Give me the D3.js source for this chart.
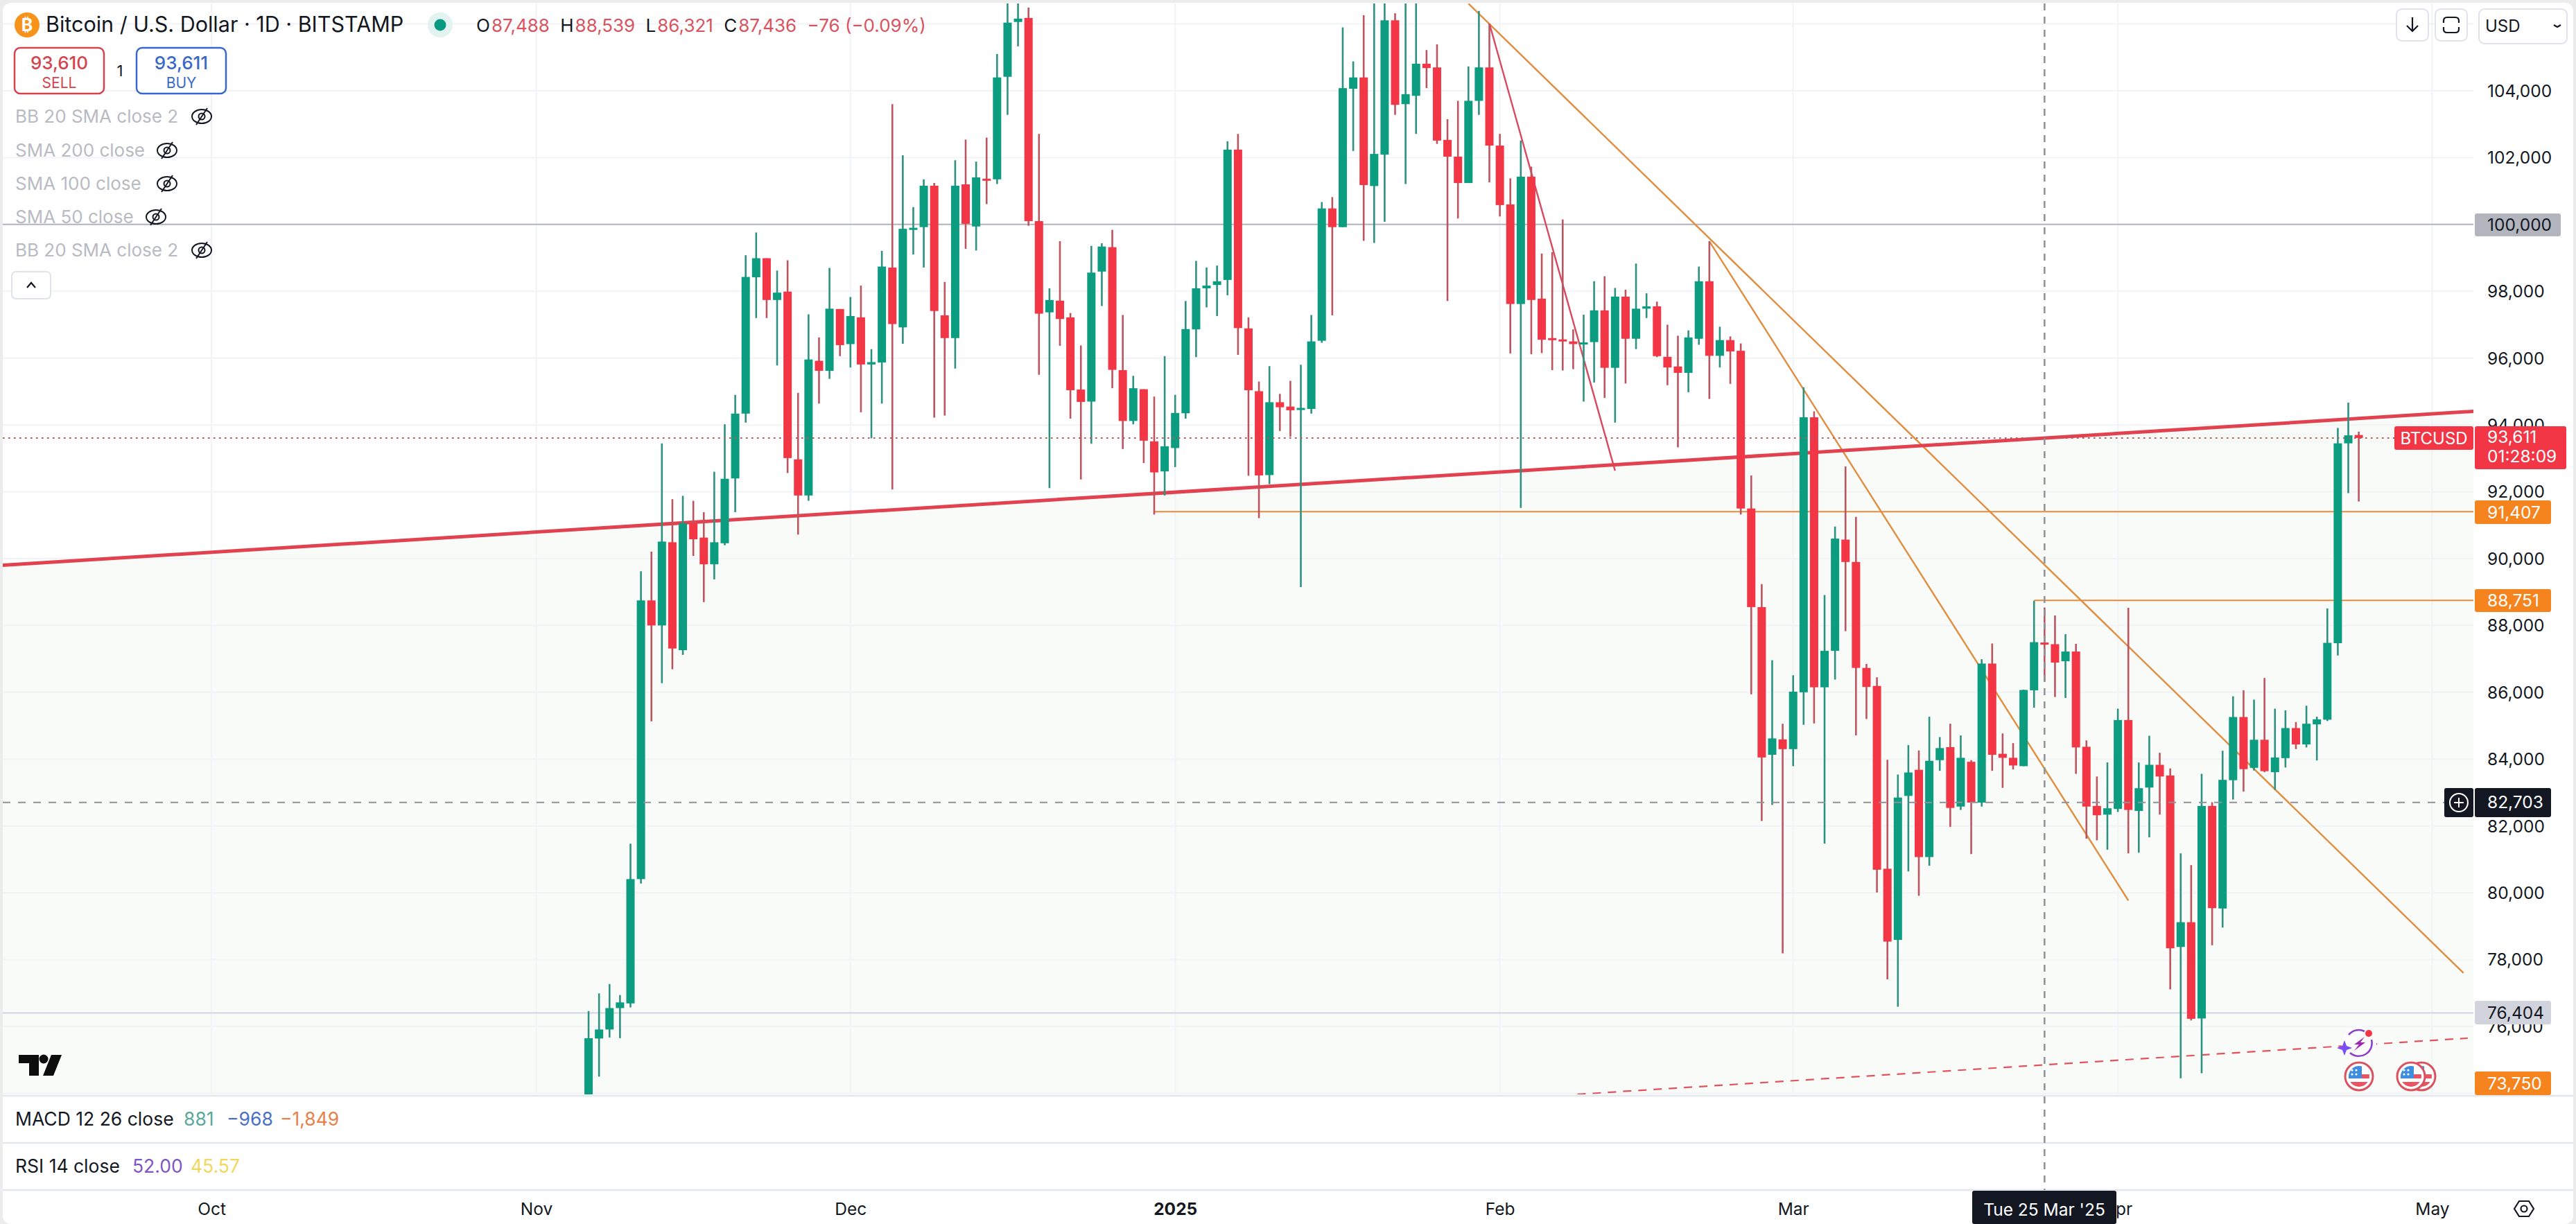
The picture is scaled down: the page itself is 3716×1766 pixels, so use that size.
<!DOCTYPE html>
<html>
<head>
<meta charset="utf-8">
<script src="https://cdn.jsdelivr.net/npm/d3@7"></script>
<style>
html,body{margin:0;padding:0;background:#ececec;overflow:hidden}
svg{display:block}
text{font-family:Inter,"Noto Sans",sans-serif}
</style>
</head>
<body>
<svg id="chart" width="3716" height="1766"></svg>
<script>
// candles, one per day from 6 Nov 2024
const firstDay = new Date(Date.UTC(2024, 10, 6));
const opens = [69400,75640,75910,76550,76690,80410,88750,88000,90490,87260,91060,90630,89830,90460,92400,94340,98420,98990,97740,97990,
92970,91890,95920,95620,97470,96420,97220,95810,95870,98710,96920,99870,99920,101160,97280,96600,101200,99940,101370,101350,
104420,106060,106180,100100,97370,97720,97220,95060,94700,98590,99320,95640,94120,95070,93510,92610,93310,94350,96860,98090,
98190,98340,102240,96890,95010,92500,94680,94550,94470,94480,96520,100480,99920,104060,104400,101150,102090,106110,103600,103850,
104810,104700,102530,102030,101240,103700,104700,102360,100600,97620,101430,97780,96600,96560,96500,96430,96480,97430,95710,97840,
96580,97480,97550,96040,95750,95560,96580,98300,96070,96540,96220,91500,88550,84130,84590,84300,86000,94230,86150,87240,
90570,89900,86730,86190,80720,78590,82900,83680,81070,83970,84360,82580,83920,82700,86860,84160,84040,83790,86060,87488,
87440,86930,87220,84370,82600,82340,82510,85170,82450,83150,83830,83510,78380,79120,76240,82600,79530,83370,85260,83740,
84580,83610,84030,84930,84440,85040,85180,87470,93450,93700];
const highs = [76460,76990,77270,76940,81470,89620,90210,93450,91780,91880,91730,91390,92600,94020,94900,99080,99760,98990,98620,98930,
94960,97310,96620,98700,97470,97830,98170,96270,99210,103600,102070,100520,101350,101240,98280,101920,102540,101880,102600,105100,
107000,107200,106490,102710,98090,99500,97350,96380,99360,99440,99840,97290,95470,95070,94850,96060,94900,97710,98910,98710,
98770,102490,102710,97220,95300,95760,94930,95320,95800,97290,100670,100820,105900,104880,106260,107500,107700,106320,107000,107000,
105220,105390,103150,103700,104730,106390,106010,102710,101380,102510,101730,99130,99170,100150,96860,97300,98300,98450,98100,98050,
98830,97940,97690,97000,96670,96830,98740,99500,96940,96650,96440,92490,89240,86960,85060,86510,95130,94410,88910,90960,
92760,91250,86850,86450,83980,83540,84420,84260,85270,84660,85060,84710,83970,86990,87460,84770,84480,86080,88740,88539,
88300,87740,87450,84560,83480,83900,85510,88530,83900,84700,84190,83720,81180,80830,83560,82710,84250,85880,86060,85780,
86430,85510,85460,85110,85600,85270,88510,93910,94670,93800];
const lows = [68800,74500,75670,75650,76570,80280,85130,86270,86690,87120,90080,88700,89380,90400,91390,94070,97200,97200,95780,92560,
90720,91730,94640,95380,96060,95720,94380,93600,94640,92070,96430,99100,98710,94220,94280,95690,99270,99220,100610,101210,
103280,105330,99960,95500,92110,96370,94190,92370,93440,97560,95100,93280,94020,92860,91320,91890,92740,94190,96030,97520,
97260,97880,96100,92480,91210,92230,93820,93650,89150,94340,96460,97280,99920,102200,99510,99450,100080,103280,101210,102710,
104080,102410,97710,100180,101240,103280,101260,100240,96140,91520,96120,96150,95640,95630,95670,94700,95270,94810,94070,95240,
96270,97200,96030,95190,93330,94980,96400,94780,95720,95230,91320,85940,82150,82630,78190,83790,85030,85070,81470,86380,
87830,84710,85200,80010,77410,76590,80640,79910,80810,83650,81970,82480,81160,82580,83650,83140,83690,83790,85540,86321,
85860,85830,83560,81620,81570,81290,82420,81180,81200,81660,82340,77110,74450,76180,74600,78430,78960,82790,83030,83660,
83610,83080,83750,84300,84350,83960,85140,87100,91960,91710];
const closes = [75650,75910,76550,76720,80410,88750,88000,90510,87310,91060,90580,89830,90490,92390,94340,98430,98990,97740,97960,93010,
91890,95960,95620,97480,96390,97260,95810,95880,98740,97020,99870,99900,101160,97410,96600,101160,100020,101410,101330,104400,
106040,106160,100100,97330,97740,97170,95040,94690,98560,99340,95650,94120,95100,93530,92580,93360,94360,96870,98090,98170,
98300,102240,96900,95040,92490,94680,94530,94440,94510,96500,100480,99920,104080,104400,101180,102110,106110,103580,103900,104810,
104680,102510,102030,101240,103700,104700,102360,100580,97620,101430,97740,96550,96550,96530,96420,96470,97430,95710,97840,96580,
97480,97550,96060,95720,95560,96620,98300,96070,96540,96200,91500,88550,84050,84620,84300,86020,94230,86150,87240,90600,
89900,86730,86160,80690,78540,82850,83600,81070,83950,84330,82540,84040,82700,86860,84130,84040,83810,86070,87500,87436,
86890,87220,84350,82580,82320,82530,85170,82480,83130,83830,83480,78340,79120,76230,82600,79540,83380,85260,83700,84580,
83640,84050,84930,84440,85060,85190,87480,93450,93690,93611];

// price axis
const priceTicks = [104000,102000,100000,98000,96000,94000,92000,90000,88000,86000,84000,82000,80000,78000,76000];
const gridPrices = [106000].concat(priceTicks, [74000]);
// time axis
const monthLabels = ["Oct","Nov","Dec","2025","Feb","Mar","Apr","May"];
const monthDates = [[2024,9],[2024,10],[2024,11],[2025,0],[2025,1],[2025,2],[2025,3],[2025,4]].map(d => new Date(Date.UTC(d[0],d[1],1)));

// drawings: candle index and price of the ends
const orangeLines = [[84,106610,179,77600],[107,99497,147,79770]];
const thinRedLine = [86,106012,98,92630];
const channelTop = [-56,89800,180,94410];
const channelBottom = [94.4,73970,179.4,75650];
// horizontal levels
const hLevel1 = 91407, hLevel1From = 54;
const hLevel2 = 88751, hLevel2From = 138;
const lastPrice = 93611, bidPrice = 93610;
const roundLevel = 100000, lowLevel = 76404, cursorPrice = 82703, labelLow = 73750;
const crosshairIndex = 139;

const W = 3716, H = 1766;
const paneL = 4, paneT = 5, paneR = 3568, paneB = 1579;
const green = "#0c9c7f", red = "#f23645", greenWick = "#2f917f", redWick = "#bd5560";
const orange = "#e08d3f", gridCol = "#f1f3f6";

let x = d3.scaleUtc().domain([new Date(Date.UTC(2024,10,1)), new Date(Date.UTC(2025,4,1))]).range([773.5, 3508.4]);
let y = d3.scaleLinear().domain([104000, 76000]).range([131, 1481]);
let xi = i => x(d3.utcDay.offset(firstDay, Math.floor(i))) + (i - Math.floor(i)) * 15.11;

const candles = opens.map((o,i) => ({i:i, o:o, h:highs[i], l:lows[i], c:closes[i]}));

let svg = d3.select("#chart");
let defs = svg.append("defs");
defs.append("clipPath").attr("id","pane")
	.append("rect").attr("x",paneL).attr("y",paneT).attr("width",paneR-paneL).attr("height",paneB-paneT);
defs.append("clipPath").attr("id","flag").append("circle").attr("r",15);

// panel
svg.append("rect").attr("x",4).attr("y",4).attr("width",W-8).attr("height",H-4).attr("rx",12).attr("fill","#fff");

let pane = svg.append("g").attr("clip-path","url(#pane)");

// channel fill under the red line
let tSlope = (channelTop[3]-channelTop[1])/(channelTop[2]-channelTop[0]);
let topPrice = i => channelTop[1] + (i-channelTop[0])*tSlope;
pane.append("path")
	.datum([channelTop[0], channelTop[2]])
	.attr("fill","#f8fbf8")
	.attr("d", d3.area().x(xi).y0(paneB).y1(d => y(topPrice(d))));

// grid
pane.selectAll("line.gh").data(gridPrices).join("line").attr("class","gh")
	.attr("x1",paneL).attr("x2",paneR).attr("y1",d => y(d)).attr("y2",d => y(d))
	.attr("stroke",gridCol).attr("stroke-width",2);
pane.selectAll("line.gv").data(monthDates).join("line").attr("class","gv")
	.attr("x1",d => x(d)).attr("x2",d => x(d)).attr("y1",paneT).attr("y2",paneB)
	.attr("stroke",gridCol).attr("stroke-width",2);

function level(p, col, w, from, dash){
	let l = pane.append("line").attr("x1",from).attr("x2",paneR).attr("y1",y(p)).attr("y2",y(p))
		.attr("stroke",col).attr("stroke-width",w);
	if(dash) l.attr("stroke-dasharray",dash);
	return l;
}
function segment(s, col, w, dash){
	let l = pane.append("line").attr("x1",xi(s[0])).attr("y1",y(s[1])).attr("x2",xi(s[2])).attr("y2",y(s[3]))
		.attr("stroke",col).attr("stroke-width",w);
	if(dash) l.attr("stroke-dasharray",dash);
}

// drawings go under the candles
level(roundLevel, "#b2b5be", 2, paneL);
level(lowLevel, "#d1d4e0", 2, paneL);
level(hLevel1, "#ec8a3a", 2, xi(hLevel1From));
level(hLevel2, "#ec8a3a", 2, xi(hLevel2From));
orangeLines.forEach(s => segment(s, orange, 2.4));
segment(thinRedLine, "#d8485f", 2.4);
segment(channelTop, "#e2424f", 5);
segment(channelBottom, "#e2525d", 2.2, "12,10");

// candles
pane.selectAll("line.wick").data(candles).join("line").attr("class","wick")
	.attr("x1",d => xi(d.i)).attr("x2",d => xi(d.i))
	.attr("y1",d => y(d.h)).attr("y2",d => y(d.l))
	.attr("stroke",d => d.c >= d.o ? greenWick : redWick).attr("stroke-width",2.6);
pane.selectAll("rect.body").data(candles).join("rect").attr("class","body")
	.attr("x",d => xi(d.i)-6).attr("width",12)
	.attr("y",d => y(Math.max(d.o,d.c)))
	.attr("height",d => Math.max(3, Math.abs(y(d.o)-y(d.c))))
	.attr("fill",d => d.c >= d.o ? green : red);

// price lines on top of candles
level(lastPrice, "#bd5560", 2, paneL, "2.5,5.5").attr("x2",3454);
level(cursorPrice, "#8f9197", 2, paneL, "11,11");

// bottom panes
[paneB+2, 1649, 1717].forEach(v => {
	svg.append("line").attr("x1",4).attr("x2",3712).attr("y1",v).attr("y2",v).attr("stroke","#e3e6ea").attr("stroke-width",2.5);
});

// crosshair
svg.append("line").attr("x1",xi(crosshairIndex)).attr("x2",xi(crosshairIndex)).attr("y1",paneT).attr("y2",1717)
	.attr("stroke","#8f9197").attr("stroke-width",2.5).attr("stroke-dasharray","10,9");

// price axis
let axisR = d3.axisRight(y).tickValues(priceTicks).tickFormat(d3.format(",")).tickSize(0).tickPadding(0);
let gy = svg.append("g").attr("transform","translate(3588,0)").call(axisR);
gy.select(".domain").remove();
gy.selectAll("text").attr("font-size",24.5).attr("fill","#131722").attr("font-family","Inter").attr("dy","0.34em");

// time axis
let axisB = d3.axisBottom(x).tickValues(monthDates).tickFormat((d,i) => monthLabels[i]).tickSize(0).tickPadding(0);
let gx = svg.append("g").attr("transform","translate(0,1735)").call(axisB);
gx.select(".domain").remove();
gx.selectAll("text").attr("font-size",24.5).attr("fill","#131722").attr("font-family","Inter").attr("dy","0.72em")
	.attr("font-weight",(d,i) => monthLabels[i]=="2025" ? 700 : 400);

function tag(x0, y0, w, h, fill, lines, col){
	svg.append("rect").attr("x",x0).attr("y",y0).attr("width",w).attr("height",h).attr("rx",3).attr("fill",fill);
	lines.forEach(l => {
		svg.append("text").attr("x",3588).attr("y",l[1]).attr("font-size",24.5).attr("fill",col).text(l[0]);
	});
}
let fmt = d3.format(",");
tag(3570,308,124,33,"#b2b5be",[[fmt(roundLevel),333]],"#131722");
tag(3570,722,110,34,"#f5841f",[[fmt(hLevel1),748]],"#fff");
tag(3570,850,110,33,"#f5841f",[[fmt(hLevel2),875]],"#fff");
tag(3570,1444,110,34,"#d1d4dc",[[fmt(lowLevel),1470]],"#131722");
tag(3570,1546,110,34,"#f5841f",[[fmt(labelLow),1572]],"#fff");
tag(3570,1137,110,42,"#131722",[[fmt(cursorPrice),1166]],"#fff");
tag(3570,615,132,62,"#f23645",[[fmt(lastPrice),639],["01:28:09",667]],"#fff");

// BTCUSD tag and the plus box
svg.append("rect").attr("x",3454).attr("y",615).attr("width",114).attr("height",34).attr("rx",3).attr("fill","#f23645");
svg.append("text").attr("x",3511).attr("y",641).attr("text-anchor","middle").attr("font-size",24).attr("fill","#fff").text("BTCUSD");
svg.append("rect").attr("x",3526).attr("y",1137).attr("width",42).attr("height",42).attr("rx",3).attr("fill","#131722");
svg.append("circle").attr("cx",3547).attr("cy",1158).attr("r",13).attr("fill","none").attr("stroke","#fff").attr("stroke-width",2);
svg.append("path").attr("d","M3540 1158h14M3547 1151v14").attr("stroke","#fff").attr("stroke-width",2);

// crosshair date
svg.append("rect").attr("x",2845).attr("y",1718).attr("width",208).attr("height",48).attr("rx",3).attr("fill","#131722");
svg.append("text").attr("x",2949).attr("y",1754).attr("text-anchor","middle").attr("font-size",24.5).attr("fill","#fff").text("Tue 25 Mar '25");

// top right buttons
function btn(x0,w,h){
	svg.append("rect").attr("x",x0).attr("y",13).attr("width",w).attr("height",h).attr("rx",8).attr("fill","#fff").attr("stroke","#e0e3eb").attr("stroke-width",2);
}
btn(3457,46,46); btn(3513,46,46); btn(3576,127,50);
svg.append("path").attr("d","M3480 25v20M3472 37l8 8 8-8").attr("fill","none").attr("stroke","#131722").attr("stroke-width",2.2);
svg.append("path").attr("d","M3525 33v-3q0-5 5-5h12q5 0 5 5v3M3525 39v3q0 5 5 5h12q5 0 5-5v-3").attr("fill","none").attr("stroke","#131722").attr("stroke-width",2.2);
svg.append("text").attr("x",3585).attr("y",46).attr("font-size",24).attr("fill","#131722").text("USD");
svg.append("path").attr("d","M3684 36l5 3 5-3").attr("fill","none").attr("stroke","#131722").attr("stroke-width",2.2);

// legend header
svg.append("circle").attr("cx",39).attr("cy",36).attr("r",18).attr("fill","#f7931a");
svg.append("text").attr("x",39).attr("y",45).attr("text-anchor","middle").attr("font-size",25).attr("font-weight",700).attr("fill","#fff").text("₿");
svg.append("text").attr("x",66).attr("y",46).attr("font-size",30.5).attr("fill","#131722").text("Bitcoin / U.S. Dollar · 1D · BITSTAMP");
svg.append("circle").attr("cx",635).attr("cy",36).attr("r",18).attr("fill","#e2f3f0");
svg.append("circle").attr("cx",635).attr("cy",36).attr("r",8.5).attr("fill","#089981");

const legendRed = "#d9535f";
let ohlc = svg.append("text").attr("x",685).attr("y",46).attr("font-size",26).attr("xml:space","preserve");
[["O","#131722"],["87,488",legendRed],[" H","#131722"],["88,539",legendRed],[" L","#131722"],["86,321",legendRed],[" C","#131722"],["87,436",legendRed],[" −76 (−0.09%)",legendRed]]
	.forEach(p => ohlc.append("tspan").attr("fill",p[1]).attr("dx",p[0][0]==" " ? 8 : 2).text(p[0]));

// sell / buy
function trade(x0, col, price, word){
	svg.append("rect").attr("x",x0).attr("y",69).attr("width",129).attr("height",66).attr("rx",8).attr("fill","#fff").attr("stroke",col).attr("stroke-width",2.5);
	svg.append("text").attr("x",x0+64.5).attr("y",100).attr("text-anchor","middle").attr("font-size",26).attr("font-weight",500).attr("fill",col).text(price);
	svg.append("text").attr("x",x0+64.5).attr("y",127).attr("text-anchor","middle").attr("font-size",21).attr("fill",col).text(word);
}
trade(21,"#d4444f",fmt(bidPrice),"SELL");
trade(197,"#3a68c9",fmt(lastPrice),"BUY");
svg.append("text").attr("x",173).attr("y",110).attr("text-anchor","middle").attr("font-size",22).attr("fill","#131722").text("1");

// hidden studies
const studies = ["BB 20 SMA close 2","SMA 200 close","SMA 100 close","SMA 50 close","BB 20 SMA close 2"];
const studyY = [168,217,265,313,361], eyeX = [291,241,241,225,291];
studies.forEach((s,i) => {
	svg.append("text").attr("x",22).attr("y",studyY[i]+9).attr("font-size",26).attr("fill","#b8bbc2").text(s);
	let g = svg.append("g").attr("transform","translate("+eyeX[i]+","+studyY[i]+")").attr("fill","none").attr("stroke","#131722").attr("stroke-width",2);
	g.append("ellipse").attr("rx",14).attr("ry",10);
	g.append("circle").attr("r",4.5);
	g.append("line").attr("x1",-8).attr("y1",12).attr("x2",8).attr("y2",-12);
});
svg.append("rect").attr("x",17).attr("y",392).attr("width",56).attr("height",39).attr("rx",6).attr("fill","#fff").attr("stroke","#dfe2e8").attr("stroke-width",2);
svg.append("path").attr("d","M39 415l6-7 6 7").attr("fill","none").attr("stroke","#131722").attr("stroke-width",2.2);

// logo
let logo = svg.append("g").attr("fill","#0d0d0d");
logo.append("path").attr("d","M27 1522h29v30h-14v-18h-15zM74 1522h15l-12 30h-15z");
logo.append("circle").attr("cx",63).attr("cy",1528).attr("r",6.5);

// pane legends
function paneText(yp, parts){
	parts.forEach(p => svg.append("text").attr("x",p[0]).attr("y",yp).attr("font-size",26.5).attr("fill",p[2]).text(p[1]));
}
paneText(1624,[[22,"MACD 12 26 close","#131722"],[265,"881","#5aa89a"],[327,"−968","#4a6fc7"],[404,"−1,849","#e8804a"]]);
paneText(1692,[[22,"RSI 14 close","#131722"],[191,"52.00","#7e57c2"],[275,"45.57","#f0d860"]]);

// event icons
let ev = svg.append("g");
ev.append("circle").attr("cx",3403).attr("cy",1505).attr("r",25).attr("fill","#fbfcfb");
ev.append("path").attr("d","M3388 1493A19 19 0 0 1 3411 1488M3421 1500A19 19 0 0 1 3390 1519").attr("fill","none").attr("stroke","#8e3fc9").attr("stroke-width",2.6);
ev.append("path").attr("d","M3411 1496l-15 11h7l-7 9 16-12h-7z").attr("fill","#9c27b0");
ev.append("circle").attr("cx",3417).attr("cy",1491).attr("r",5).attr("fill","#f23645");
ev.append("path").attr("d","M3382 1501l3 8 8 3-8 3-3 8-3-8-8-3 8-3z").attr("fill","#7b4df2");
[3493,3478,3403].forEach(cx => {
	let f = svg.append("g").attr("transform","translate("+cx+",1553)");
	f.append("circle").attr("r",20).attr("fill","#fff").attr("stroke","#d9535f").attr("stroke-width",3);
	let c = f.append("g").attr("clip-path","url(#flag)");
	c.append("rect").attr("x",-16).attr("y",-3).attr("width",32).attr("height",6).attr("fill","#e8545f");
	c.append("rect").attr("x",-16).attr("y",8).attr("width",32).attr("height",8).attr("fill","#e8545f");
	c.append("rect").attr("x",-16).attr("y",-16).attr("width",20).attr("height",19).attr("fill","#3f8de0");
	c.selectAll("circle").data([[-10,-9],[-4,-9],[-10,-3],[-4,-3]]).join("circle")
		.attr("cx",d => d[0]).attr("cy",d => d[1]).attr("r",1.6).attr("fill","#fff");
});

// settings glyph
svg.append("path").attr("d","M3627 1744l7-11h14l7 11-7 11h-14z").attr("fill","none").attr("stroke","#131722").attr("stroke-width",2.2);
svg.append("circle").attr("cx",3641).attr("cy",1744).attr("r",4.5).attr("fill","none").attr("stroke","#131722").attr("stroke-width",2.2);
</script>
</body>
</html>
